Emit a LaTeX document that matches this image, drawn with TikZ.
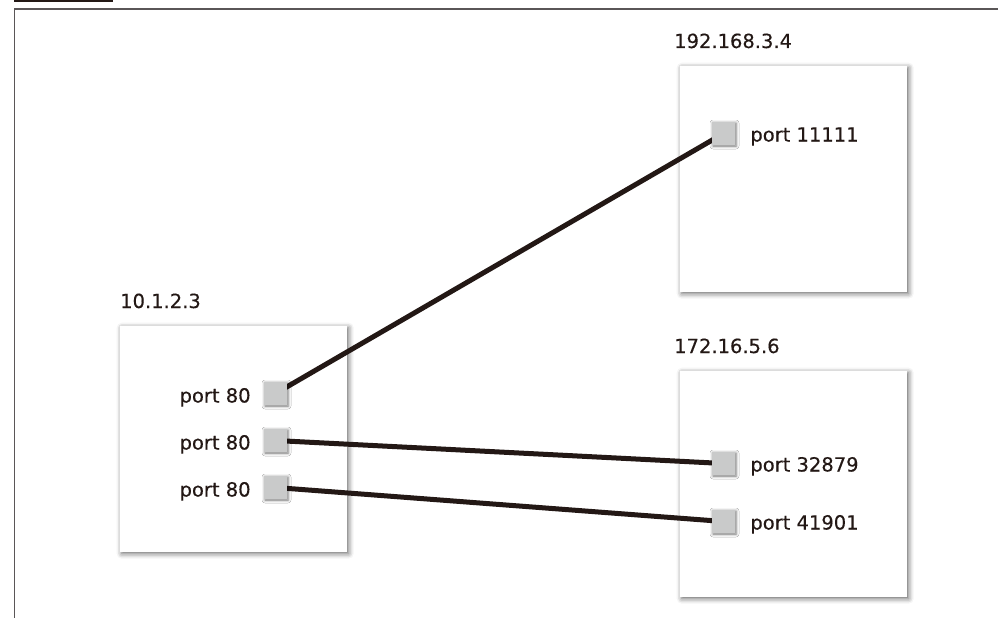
\documentclass[tikz,border=0pt]{standalone}
\usepackage{fontspec}
\setmainfont{DejaVu Sans}[FakeBold=0.35]
\usetikzlibrary{calc,shadows.blur}
\definecolor{ink}{HTML}{231815}
\definecolor{framegray}{HTML}{5A5657}
\definecolor{portgray}{HTML}{C9CACA}
\pgfdeclarelayer{front}
\pgfsetlayers{main,front}
\tikzset{
  host/.style={fill=white, minimum width=227pt, minimum height=226pt, inner sep=0,
    anchor=north west,
    blur shadow={shadow xshift=1.5pt, shadow yshift=-1.5pt, shadow blur radius=5pt, shadow opacity=60}},
  hostname/.style={anchor=base west, inner sep=0, font=\fontsize{19.5}{24}\selectfont, text=ink},
  port/.style={fill=portgray, minimum size=23pt, inner sep=0,
    blur shadow={shadow xshift=1pt, shadow yshift=-1pt, shadow blur radius=3pt, shadow opacity=55}},
  portname/.style={inner sep=0, font=\fontsize{19.5}{24}\selectfont, text=ink},
  wire/.style={draw=ink, line width=5pt},
}
\begin{document}
\begin{tikzpicture}[x=1pt, y=-1pt]
\useasboundingbox (0,0) rectangle (998,618);
% page frame
\fill[ink] (14,0) rectangle (113,1.6);
\draw[framegray, line width=1.5pt] (998,9) -- (14.5,9) -- (14.5,618);

% hosts
\node[host] (hA) at (120,326) {};
\node[host] (hB) at (680,66) {};
\node[host] (hC) at (680,371) {};
\node[hostname] (lA) at (120,308) {10.1.2.3};
\node[hostname] (lB) at (674,48) {192.168.3.4};
\node[hostname] (lC) at (674,353) {172.16.5.6};

% ports
\begin{pgfonlayer}{front}
\node[port] (a1) at (275.5,393.5) {};
\node[port] (a2) at (275.5,440.5) {};
\node[port] (a3) at (275.5,487.5) {};
\node[port] (b1) at (723.5,133.5) {};
\node[port] (c1) at (723.5,463.5) {};
\node[port] (c2) at (723.5,521.5) {};
\node[portname, anchor=base east] at ($(a1.west)+(-13,9)$) {port 80};
\node[portname, anchor=base east] at ($(a2.west)+(-13,9)$) {port 80};
\node[portname, anchor=base east] at ($(a3.west)+(-13,9)$) {port 80};
\node[portname, anchor=base west] at ($(b1.east)+(15,8)$) {port 11111};
\node[portname, anchor=base west] at ($(c1.east)+(15,8)$) {port 32879};
\node[portname, anchor=base west] at ($(c2.east)+(15,8)$) {port 41901};
\end{pgfonlayer}

% connections
\draw[wire] (a1.center) -- (b1.center);
\draw[wire] (a2.center) -- (c1.center);
\draw[wire] (a3.center) -- (c2.center);
\end{tikzpicture}
\end{document}
